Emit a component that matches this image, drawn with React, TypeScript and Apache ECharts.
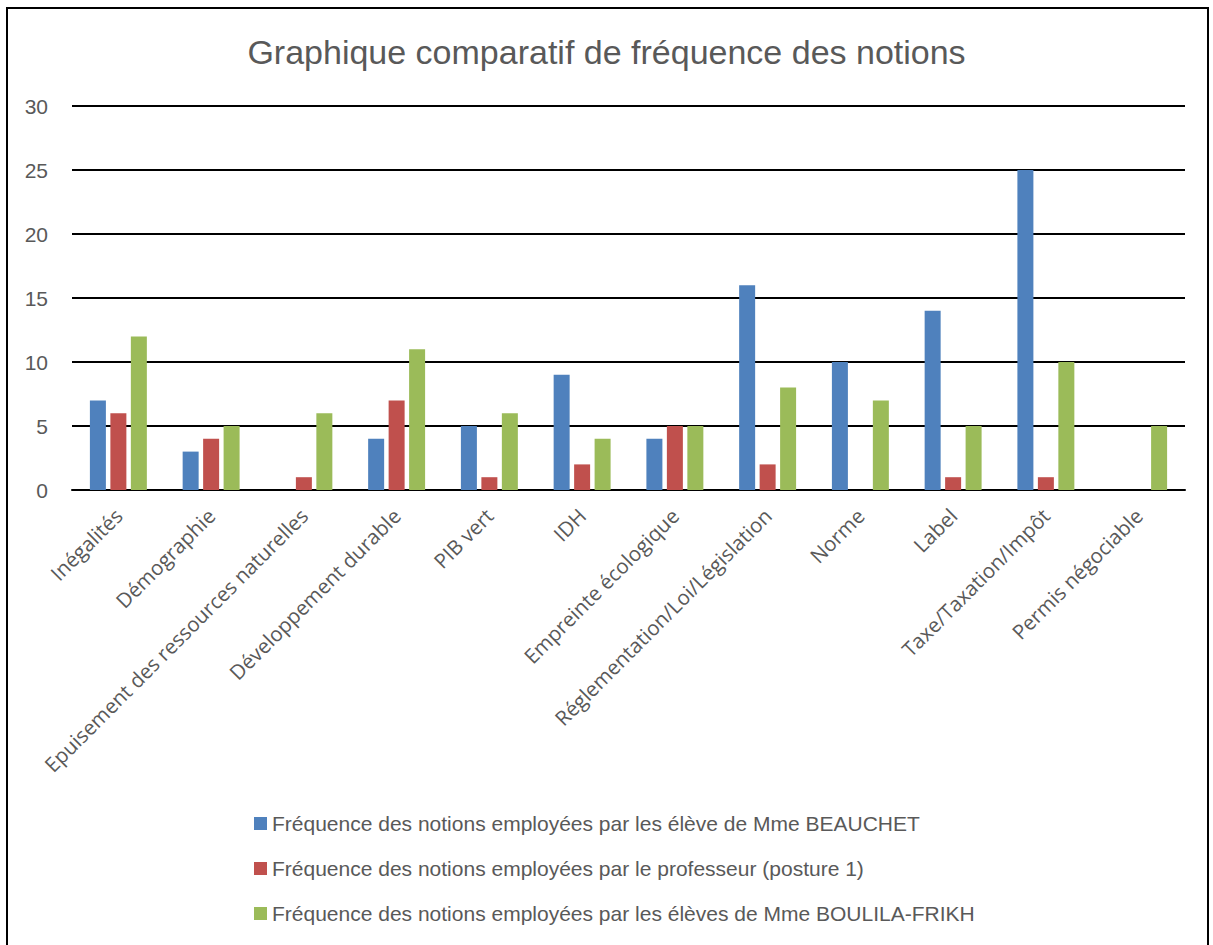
import React, { useEffect, useRef } from "react";
import * as echarts from "echarts";

const categories = [
  "Inégalités",
  "Démographie",
  "Epuisement des ressources naturelles",
  "Développement durable",
  "PIB vert",
  "IDH",
  "Empreinte écologique",
  "Réglementation/Loi/Législation",
  "Norme",
  "Label",
  "Taxe/Taxation/Impôt",
  "Permis négociable",
];

const seriesNames = [
  "Fréquence des notions employées par les élève de Mme BEAUCHET",
  "Fréquence des notions employées par le professeur (posture 1)",
  "Fréquence des notions employées par les élèves de Mme BOULILA-FRIKH",
];

const beauchet = [7, 3, 0, 4, 5, 9, 4, 16, 10, 14, 25, 0];
const professeur = [6, 4, 1, 7, 1, 2, 5, 2, 0, 1, 1, 0];
const boulila = [12, 5, 6, 11, 6, 4, 5, 8, 7, 5, 10, 5];

const colors = ["#4F81BD", "#C0504D", "#9BBB59"];

export default function App() {
  const ref = useRef<HTMLDivElement>(null);
  useEffect(() => {
    if (!ref.current) return;
    const chart = echarts.init(ref.current, undefined, { renderer: "svg" });
    const values = [beauchet, professeur, boulila];
    chart.setOption({
      animation: false,
      backgroundColor: "#ffffff",
      title: {
        text: "Graphique comparatif de fréquence des notions",
        left: "center",
        top: 30,
        textStyle: {
          fontFamily: "Liberation Sans",
          fontSize: 34,
          fontWeight: "normal",
          color: "#595959",
        },
      },
      legend: {
        orient: "vertical",
        left: 249,
        top: 808,
        itemWidth: 13,
        itemHeight: 13,
        itemGap: 24,
        itemStyle: { borderWidth: 0 },
        icon: "rect",
        textStyle: {
          fontFamily: "Liberation Sans",
          fontSize: 21,
          color: "#595959",
        },
        data: seriesNames,
      },
      grid: {
        left: 72,
        right: 28,
        top: 106,
        height: 384,
        containLabel: false,
      },
      xAxis: {
        type: "category",
        data: categories,
        axisLine: { show: true, lineStyle: { color: "#000000", width: 2 } },
        axisTick: { show: false },
        axisLabel: {
          rotate: 45,
          interval: 0,
          margin: 22,
          fontFamily: "Open Sans",
          fontSize: 20.5,
          color: "#595959",
        },
      },
      yAxis: {
        type: "value",
        min: 0,
        max: 30,
        interval: 5,
        axisLine: { show: false },
        axisTick: { show: false },
        splitLine: { show: true, lineStyle: { color: "#000000", width: 2 } },
        axisLabel: {
          margin: 24,
          fontFamily: "Liberation Sans",
          fontSize: 21,
          color: "#595959",
        },
      },
      series: values.map((v, i) => ({
        name: seriesNames[i],
        type: "bar",
        data: v,
        barWidth: 16,
        barGap: "28%",
        itemStyle: { color: colors[i] },
      })),
    });
    return () => chart.dispose();
  }, []);
  return (
    <div style={{ position: "absolute", left: 0, top: 0, width: 1213, height: 945, background: "#fff", overflow: "hidden" }}>
      <div ref={ref} style={{ position: "absolute", left: 0, top: 0, width: 1213, height: 945 }} />
      <div
        style={{
          position: "absolute",
          left: 6,
          top: 7,
          width: 1203,
          height: 960,
          border: "2px solid #000",
          boxSizing: "border-box",
          pointerEvents: "none",
        }}
      />
    </div>
  );
}
